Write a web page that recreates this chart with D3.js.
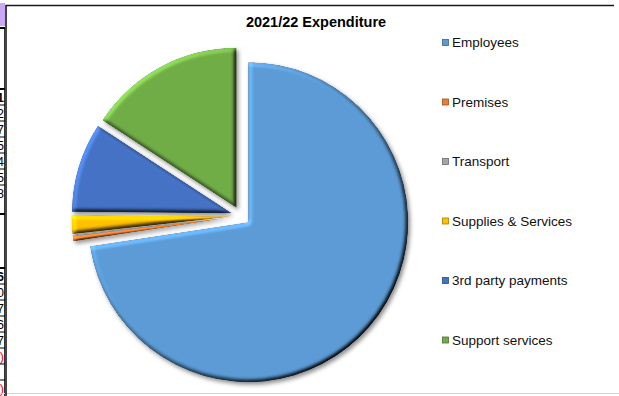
<!DOCTYPE html>
<html>
<head>
<meta charset="utf-8">
<script src="https://cdn.jsdelivr.net/npm/d3@7"></script>
<style>
  html, body { margin: 0; padding: 0; background: #fff; }
  svg { display: block; }
  text { font-family: "Liberation Sans", Arial, sans-serif; }
</style>
</head>
<body>
<svg id="chart" width="619" height="396"></svg>
<script>
// Expenditure categories and amounts (£000s)
const categories = ["Employees", "Premises", "Transport", "Supplies & Services", "3rd party payments", "Support services"];
const values = [7260, 50, 15, 190, 905, 1580];
const colors = ["#5B9BD5", "#ED7D31", "#A5A5A5", "#FFC000", "#4472C4", "#70AD47"];
const title = "2021/22 Expenditure";

// Neighbouring worksheet cells visible left of the chart
const upperCells = ["1", "2", "7", "5", "4", "5", "8"];
const lowerCells = ["6", "0", "7", "6", "7", ")", "", ")"];

const svg = d3.select("#chart");
const W = 619, H = 396;

const defs = svg.append("defs");

// Rounded bevel: light from the upper left over a blurred alpha bump
const bevel = defs.append("filter").attr("id", "bevel")
  .attr("x", "-5%").attr("y", "-5%").attr("width", "110%").attr("height", "110%")
  .attr("color-interpolation-filters", "sRGB");
bevel.append("feGaussianBlur").attr("in", "SourceAlpha").attr("stdDeviation", 2).attr("result", "b");
const light = bevel.append("feDiffuseLighting").attr("in", "b").attr("surfaceScale", 3)
  .attr("diffuseConstant", 1).attr("lighting-color", "#fff").attr("result", "light");
light.append("feDistantLight").attr("azimuth", 225).attr("elevation", 50);
bevel.append("feComposite").attr("in", "SourceGraphic").attr("in2", "light")
  .attr("operator", "arithmetic").attr("k1", 1 / Math.sin(50 * Math.PI / 180))
  .attr("k2", 0).attr("k3", 0).attr("k4", 0).attr("result", "lit");
bevel.append("feComposite").attr("in", "lit").attr("in2", "SourceAlpha").attr("operator", "in");

const shadow = defs.append("filter").attr("id", "shadow")
  .attr("x", "-10%").attr("y", "-10%").attr("width", "125%").attr("height", "125%");
shadow.append("feDropShadow").attr("dx", 2).attr("dy", 2.5).attr("stdDeviation", 2)
  .attr("flood-color", "#000").attr("flood-opacity", 0.45);

defs.append("clipPath").attr("id", "cellClip")
  .append("rect").attr("x", 0).attr("y", 0).attr("width", 5).attr("height", H);

// ---- worksheet strip ----
const cells = svg.append("g").attr("clip-path", "url(#cellClip)");
cells.append("rect").attr("x", 0).attr("y", 3).attr("width", 5).attr("height", 23).attr("fill", "#C9A8F4");
cells.append("line").attr("x1", 4.5).attr("x2", 4.5).attr("y1", 28).attr("y2", H)
  .attr("stroke", "#333").attr("stroke-width", 1);
const rowH = 16;
[[89, upperCells], [268, lowerCells]].forEach(([top, list]) => {
  cells.append("line").attr("x1", 0).attr("x2", 5).attr("y1", top).attr("y2", top)
    .attr("stroke", "#000").attr("stroke-width", 2);
  list.forEach((t, i) => {
    const y0 = top + i * rowH;
    if (i > 0) cells.append("line").attr("x1", 0).attr("x2", 5).attr("y1", y0).attr("y2", y0)
      .attr("stroke", "#000").attr("stroke-width", 1);
    cells.append("text").attr("x", 4).attr("y", y0 + 12.5).attr("text-anchor", "end")
      .attr("font-size", 12.5).attr("font-weight", i === 0 ? "bold" : "normal")
      .attr("fill", t === ")" ? "#FF0000" : "#000").text(t);
  });
});
[28, 214].forEach(y => cells.append("line").attr("x1", 0).attr("x2", 5).attr("y1", y).attr("y2", y)
  .attr("stroke", "#000").attr("stroke-width", 2));

// ---- chart frame ----
svg.append("line").attr("x1", 0).attr("x2", W).attr("y1", 393.5).attr("y2", 393.5)
  .attr("stroke", "#d4d4d4").attr("stroke-width", 1);
svg.append("path").attr("d", `M6,${H} V5.5 H614`).attr("fill", "none")
  .attr("stroke", "#1a1a1a").attr("stroke-width", 1.6);

svg.append("text").attr("x", 316).attr("y", 27).attr("text-anchor", "middle")
  .attr("font-size", 14.5).attr("font-weight", "bold").attr("fill", "#000").text(title);

// ---- pie ----
const cx = 241, cy = 216, radius = 160, explode = 9.5;
const pie = d3.pie().sort(null).value(d => d.value).startAngle(0).endAngle(2 * Math.PI);
const arc = d3.arc().innerRadius(0).outerRadius(radius);
const color = d3.scaleOrdinal().domain(categories).range(colors);
const data = categories.map((c, i) => ({ name: c, value: values[i] }));

const pieG = svg.append("g").attr("transform", `translate(${cx},${cy})`).attr("filter", "url(#shadow)");
pieG.selectAll("path").data(pie(data)).join("path")
  .attr("d", arc)
  .attr("transform", d => {
    const m = (d.startAngle + d.endAngle) / 2;
    return `translate(${explode * Math.sin(m)},${-explode * Math.cos(m)})`;
  })
  .attr("fill", d => color(d.data.name))
  .attr("filter", "url(#bevel)");

// ---- legend ----
const legend = svg.append("g").attr("transform", "translate(442.5,0)");
const ly = d3.scalePoint().domain(categories).range([42.5, 340]);
const items = legend.selectAll("g").data(categories).join("g")
  .attr("transform", d => `translate(0,${ly(d)})`);
items.append("rect").attr("x", 0).attr("y", -3).attr("width", 6).attr("height", 6)
  .attr("fill", d => color(d))
  .attr("stroke", d => d3.color(color(d)).darker(1.2)).attr("stroke-width", 0.8);
items.append("text").attr("x", 9.5).attr("y", 4.8).attr("font-size", 13.5).attr("fill", "#111")
  .text(d => d);
</script>
</body>
</html>
